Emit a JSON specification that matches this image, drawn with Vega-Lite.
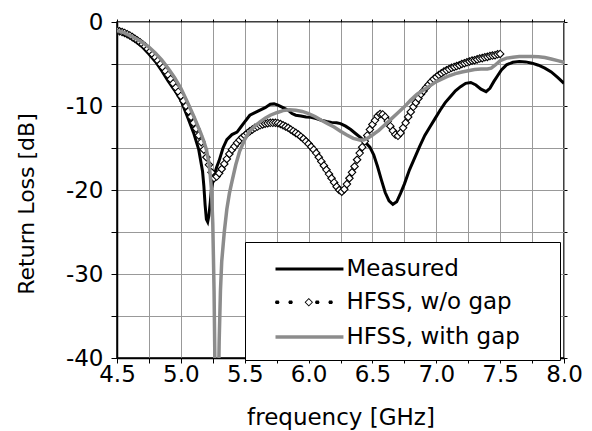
{
"$schema": "https://vega.github.io/schema/vega-lite/v6.json",
"width": 447, "height": 336,
"autosize": "none",
"padding": {"left": 117, "top": 22, "right": 28, "bottom": 73},
"config": {
 "font": "DejaVu Sans",
 "view": {"stroke": "black", "strokeWidth": 1.5},
 "axis": {"labelFont": "DejaVu Sans", "labelFontSize": 23, "labelColor": "black", "titleFont": "DejaVu Sans", "titleFontSize": 23, "titleFontWeight": "normal", "titleColor": "black", "tickColor": "black", "domainColor": "black", "domainWidth": 1.5, "gridColor": "#999999", "gridOpacity": 1, "tickSize": 5, "labelFlush": false}
},
"datasets": {
 "measured": [
  {"freq":4.50,"rl":-1.0},{"freq":4.55,"rl":-1.3},{"freq":4.60,"rl":-1.8},{"freq":4.65,"rl":-2.35},{"freq":4.70,"rl":-3.0},{"freq":4.75,"rl":-3.8},{"freq":4.80,"rl":-4.7},{"freq":4.85,"rl":-5.8},{"freq":4.90,"rl":-7.0},{"freq":4.95,"rl":-8.1},{"freq":5.00,"rl":-9.3},{"freq":5.05,"rl":-11.2},{"freq":5.10,"rl":-13.2},{"freq":5.14,"rl":-15.2},{"freq":5.17,"rl":-17.8},{"freq":5.18,"rl":-19.5},{"freq":5.19,"rl":-21.8},{"freq":5.20,"rl":-23.5},{"freq":5.21,"rl":-23.8},{"freq":5.22,"rl":-23.0},{"freq":5.23,"rl":-21.5},{"freq":5.24,"rl":-19.8},{"freq":5.26,"rl":-18.3},{"freq":5.28,"rl":-17.3},{"freq":5.30,"rl":-16.5},{"freq":5.33,"rl":-15.0},{"freq":5.36,"rl":-14.0},{"freq":5.40,"rl":-13.4},{"freq":5.44,"rl":-13.1},{"freq":5.47,"rl":-12.5},{"freq":5.50,"rl":-11.9},{"freq":5.54,"rl":-11.1},{"freq":5.58,"rl":-10.8},{"freq":5.62,"rl":-10.5},{"freq":5.66,"rl":-10.2},{"freq":5.70,"rl":-9.8},{"freq":5.73,"rl":-9.75},{"freq":5.76,"rl":-9.9},{"freq":5.80,"rl":-10.2},{"freq":5.84,"rl":-10.5},{"freq":5.87,"rl":-10.9},{"freq":5.90,"rl":-11.1},{"freq":5.94,"rl":-11.2},{"freq":5.98,"rl":-11.3},{"freq":6.02,"rl":-11.35},{"freq":6.06,"rl":-11.5},{"freq":6.10,"rl":-11.7},{"freq":6.14,"rl":-11.85},{"freq":6.18,"rl":-11.95},{"freq":6.22,"rl":-12.0},{"freq":6.25,"rl":-12.1},{"freq":6.29,"rl":-12.4},{"freq":6.33,"rl":-12.8},{"freq":6.37,"rl":-13.3},{"freq":6.41,"rl":-13.8},{"freq":6.45,"rl":-14.4},{"freq":6.48,"rl":-14.9},{"freq":6.51,"rl":-15.8},{"freq":6.54,"rl":-17.2},{"freq":6.57,"rl":-18.8},{"freq":6.60,"rl":-20.3},{"freq":6.63,"rl":-21.3},{"freq":6.66,"rl":-21.7},{"freq":6.69,"rl":-21.4},{"freq":6.72,"rl":-20.4},{"freq":6.75,"rl":-19.3},{"freq":6.79,"rl":-17.6},{"freq":6.83,"rl":-16.2},{"freq":6.87,"rl":-14.8},{"freq":6.91,"rl":-13.5},{"freq":6.95,"rl":-12.5},{"freq":6.99,"rl":-11.5},{"freq":7.03,"rl":-10.5},{"freq":7.07,"rl":-9.6},{"freq":7.11,"rl":-8.9},{"freq":7.15,"rl":-8.2},{"freq":7.19,"rl":-7.7},{"freq":7.23,"rl":-7.3},{"freq":7.27,"rl":-7.2},{"freq":7.31,"rl":-7.5},{"freq":7.35,"rl":-8.0},{"freq":7.39,"rl":-8.3},{"freq":7.42,"rl":-7.9},{"freq":7.45,"rl":-7.1},{"freq":7.48,"rl":-6.4},{"freq":7.51,"rl":-5.7},{"freq":7.55,"rl":-5.1},{"freq":7.60,"rl":-4.8},{"freq":7.65,"rl":-4.7},{"freq":7.70,"rl":-4.75},{"freq":7.75,"rl":-4.9},{"freq":7.80,"rl":-5.15},{"freq":7.85,"rl":-5.5},{"freq":7.90,"rl":-5.95},{"freq":7.95,"rl":-6.6},{"freq":8.00,"rl":-7.3}
 ],
 "nogap": [
  {"freq":4.50,"rl":-1.0},{"freq":4.52,"rl":-1.1},{"freq":4.54,"rl":-1.2},{"freq":4.56,"rl":-1.3},{"freq":4.58,"rl":-1.45},{"freq":4.60,"rl":-1.6},{"freq":4.62,"rl":-1.8},{"freq":4.64,"rl":-2.0},{"freq":4.66,"rl":-2.2},{"freq":4.68,"rl":-2.4},{"freq":4.70,"rl":-2.65},{"freq":4.72,"rl":-2.9},{"freq":4.74,"rl":-3.2},{"freq":4.76,"rl":-3.5},{"freq":4.78,"rl":-3.85},{"freq":4.80,"rl":-4.2},{"freq":4.82,"rl":-4.6},{"freq":4.84,"rl":-5.0},{"freq":4.86,"rl":-5.4},{"freq":4.88,"rl":-5.85},{"freq":4.90,"rl":-6.3},{"freq":4.92,"rl":-6.8},{"freq":4.94,"rl":-7.3},{"freq":4.96,"rl":-7.8},{"freq":4.98,"rl":-8.3},{"freq":5.00,"rl":-8.8},{"freq":5.02,"rl":-9.4},{"freq":5.04,"rl":-10.0},{"freq":5.06,"rl":-10.6},{"freq":5.08,"rl":-11.3},{"freq":5.10,"rl":-12.0},{"freq":5.12,"rl":-12.7},{"freq":5.14,"rl":-13.5},{"freq":5.16,"rl":-14.3},{"freq":5.18,"rl":-15.2},{"freq":5.20,"rl":-16.1},{"freq":5.22,"rl":-17.0},{"freq":5.24,"rl":-17.9},{"freq":5.26,"rl":-18.6},{"freq":5.28,"rl":-18.4},{"freq":5.30,"rl":-18.0},{"freq":5.32,"rl":-17.5},{"freq":5.34,"rl":-16.9},{"freq":5.36,"rl":-16.3},{"freq":5.38,"rl":-15.7},{"freq":5.40,"rl":-15.2},{"freq":5.42,"rl":-14.8},{"freq":5.44,"rl":-14.4},{"freq":5.46,"rl":-14.05},{"freq":5.48,"rl":-13.75},{"freq":5.50,"rl":-13.5},{"freq":5.52,"rl":-13.25},{"freq":5.54,"rl":-13.0},{"freq":5.56,"rl":-12.8},{"freq":5.58,"rl":-12.6},{"freq":5.60,"rl":-12.45},{"freq":5.62,"rl":-12.3},{"freq":5.64,"rl":-12.2},{"freq":5.66,"rl":-12.1},{"freq":5.68,"rl":-12.05},{"freq":5.70,"rl":-12.0},{"freq":5.72,"rl":-12.0},{"freq":5.74,"rl":-12.0},{"freq":5.76,"rl":-12.05},{"freq":5.78,"rl":-12.15},{"freq":5.80,"rl":-12.3},{"freq":5.82,"rl":-12.45},{"freq":5.84,"rl":-12.6},{"freq":5.86,"rl":-12.8},{"freq":5.88,"rl":-13.0},{"freq":5.90,"rl":-13.2},{"freq":5.92,"rl":-13.4},{"freq":5.94,"rl":-13.65},{"freq":5.96,"rl":-13.9},{"freq":5.98,"rl":-14.2},{"freq":6.00,"rl":-14.5},{"freq":6.02,"rl":-14.85},{"freq":6.04,"rl":-15.2},{"freq":6.06,"rl":-15.6},{"freq":6.08,"rl":-16.1},{"freq":6.10,"rl":-16.6},{"freq":6.12,"rl":-17.1},{"freq":6.14,"rl":-17.6},{"freq":6.16,"rl":-18.1},{"freq":6.18,"rl":-18.6},{"freq":6.20,"rl":-19.1},{"freq":6.22,"rl":-19.6},{"freq":6.24,"rl":-20.0},{"freq":6.26,"rl":-20.2},{"freq":6.28,"rl":-19.9},{"freq":6.30,"rl":-19.3},{"freq":6.32,"rl":-18.6},{"freq":6.34,"rl":-17.9},{"freq":6.36,"rl":-17.2},{"freq":6.38,"rl":-16.4},{"freq":6.40,"rl":-15.6},{"freq":6.42,"rl":-14.9},{"freq":6.44,"rl":-14.2},{"freq":6.46,"rl":-13.5},{"freq":6.48,"rl":-12.8},{"freq":6.50,"rl":-12.2},{"freq":6.52,"rl":-11.7},{"freq":6.54,"rl":-11.2},{"freq":6.56,"rl":-10.95},{"freq":6.58,"rl":-11.0},{"freq":6.60,"rl":-11.3},{"freq":6.62,"rl":-11.8},{"freq":6.64,"rl":-12.4},{"freq":6.66,"rl":-12.95},{"freq":6.68,"rl":-13.4},{"freq":6.70,"rl":-13.55},{"freq":6.72,"rl":-13.2},{"freq":6.74,"rl":-12.6},{"freq":6.76,"rl":-12.0},{"freq":6.78,"rl":-11.3},{"freq":6.80,"rl":-10.7},{"freq":6.82,"rl":-10.1},{"freq":6.84,"rl":-9.6},{"freq":6.86,"rl":-9.1},{"freq":6.88,"rl":-8.6},{"freq":6.90,"rl":-8.2},{"freq":6.92,"rl":-7.8},{"freq":6.94,"rl":-7.45},{"freq":6.96,"rl":-7.1},{"freq":6.98,"rl":-6.8},{"freq":7.00,"rl":-6.55},{"freq":7.02,"rl":-6.3},{"freq":7.04,"rl":-6.1},{"freq":7.06,"rl":-5.9},{"freq":7.08,"rl":-5.75},{"freq":7.10,"rl":-5.6},{"freq":7.12,"rl":-5.45},{"freq":7.14,"rl":-5.35},{"freq":7.16,"rl":-5.25},{"freq":7.18,"rl":-5.15},{"freq":7.20,"rl":-5.0},{"freq":7.22,"rl":-4.9},{"freq":7.24,"rl":-4.8},{"freq":7.26,"rl":-4.7},{"freq":7.28,"rl":-4.6},{"freq":7.30,"rl":-4.55},{"freq":7.32,"rl":-4.45},{"freq":7.34,"rl":-4.35},{"freq":7.36,"rl":-4.3},{"freq":7.38,"rl":-4.2},{"freq":7.40,"rl":-4.15},{"freq":7.42,"rl":-4.05},{"freq":7.44,"rl":-4.0},{"freq":7.46,"rl":-3.95},{"freq":7.48,"rl":-3.85},{"freq":7.50,"rl":-3.8}
 ],
 "withgap": [
  {"freq":4.50,"rl":-1.0},{"freq":4.55,"rl":-1.25},{"freq":4.60,"rl":-1.6},{"freq":4.65,"rl":-2.0},{"freq":4.70,"rl":-2.45},{"freq":4.75,"rl":-3.0},{"freq":4.80,"rl":-3.7},{"freq":4.85,"rl":-4.5},{"freq":4.90,"rl":-5.5},{"freq":4.95,"rl":-6.6},{"freq":5.00,"rl":-7.9},{"freq":5.05,"rl":-9.5},{"freq":5.10,"rl":-11.2},{"freq":5.15,"rl":-13.0},{"freq":5.18,"rl":-14.2},{"freq":5.20,"rl":-15.2},{"freq":5.22,"rl":-16.8},{"freq":5.23,"rl":-18.2},{"freq":5.24,"rl":-20.0},{"freq":5.25,"rl":-24.0},{"freq":5.26,"rl":-32.0},{"freq":5.27,"rl":-45.0},{"freq":5.28,"rl":-55.0},{"freq":5.29,"rl":-48.0},{"freq":5.30,"rl":-38.0},{"freq":5.31,"rl":-32.0},{"freq":5.32,"rl":-28.5},{"freq":5.34,"rl":-25.0},{"freq":5.36,"rl":-22.3},{"freq":5.38,"rl":-20.4},{"freq":5.40,"rl":-19.0},{"freq":5.43,"rl":-17.0},{"freq":5.46,"rl":-15.4},{"freq":5.50,"rl":-14.0},{"freq":5.54,"rl":-13.0},{"freq":5.58,"rl":-12.4},{"freq":5.62,"rl":-11.9},{"freq":5.66,"rl":-11.45},{"freq":5.70,"rl":-11.1},{"freq":5.75,"rl":-10.8},{"freq":5.80,"rl":-10.55},{"freq":5.85,"rl":-10.45},{"freq":5.90,"rl":-10.5},{"freq":5.95,"rl":-10.65},{"freq":6.00,"rl":-10.9},{"freq":6.05,"rl":-11.25},{"freq":6.10,"rl":-11.7},{"freq":6.15,"rl":-12.1},{"freq":6.20,"rl":-12.5},{"freq":6.25,"rl":-13.0},{"freq":6.30,"rl":-13.45},{"freq":6.35,"rl":-13.85},{"freq":6.40,"rl":-14.05},{"freq":6.43,"rl":-14.05},{"freq":6.46,"rl":-13.85},{"freq":6.50,"rl":-13.45},{"freq":6.55,"rl":-12.9},{"freq":6.60,"rl":-12.2},{"freq":6.65,"rl":-11.5},{"freq":6.70,"rl":-10.8},{"freq":6.75,"rl":-10.1},{"freq":6.80,"rl":-9.3},{"freq":6.85,"rl":-8.6},{"freq":6.90,"rl":-8.1},{"freq":6.95,"rl":-7.6},{"freq":7.00,"rl":-7.1},{"freq":7.05,"rl":-6.75},{"freq":7.10,"rl":-6.4},{"freq":7.15,"rl":-6.15},{"freq":7.20,"rl":-5.95},{"freq":7.25,"rl":-5.8},{"freq":7.30,"rl":-5.65},{"freq":7.35,"rl":-5.6},{"freq":7.40,"rl":-5.6},{"freq":7.43,"rl":-5.5},{"freq":7.46,"rl":-5.15},{"freq":7.50,"rl":-4.6},{"freq":7.55,"rl":-4.3},{"freq":7.60,"rl":-4.2},{"freq":7.65,"rl":-4.12},{"freq":7.70,"rl":-4.1},{"freq":7.75,"rl":-4.1},{"freq":7.80,"rl":-4.15},{"freq":7.85,"rl":-4.22},{"freq":7.90,"rl":-4.4},{"freq":7.95,"rl":-4.6},{"freq":8.00,"rl":-4.8}
 ],
 "legendrows": [
  {"series": "Measured"}, {"series": "HFSS, w/o gap"}, {"series": "HFSS, with gap"}
 ]
},
"layer": [
 {
  "data": {"name": "measured"},
  "mark": {"type": "line", "strokeWidth": 3, "clip": true, "color": "#000000"},
  "encoding": {
   "x": {"field": "freq", "type": "quantitative", "scale": {"domain": [4.5, 8], "nice": false, "zero": false},
    "axis": {"orient": "bottom", "values": [4.5,4.75,5,5.25,5.5,5.75,6,6.25,6.5,6.75,7,7.25,7.5,7.75,8], "labelExpr": "(datum.value*4)%2 === 0 ? format(datum.value, '.1f') : ''", "title": "frequency [GHz]", "grid": true, "labelBaseline": "alphabetic", "labelPadding": 18, "titleBaseline": "alphabetic", "titleY": 66}},
   "y": {"field": "rl", "type": "quantitative", "scale": {"domain": [-40, 0], "nice": false, "zero": false},
    "axis": {"orient": "left", "values": [-40,-35,-30,-25,-20,-15,-10,-5,0], "labelExpr": "datum.value % 10 === 0 ? '' + datum.value : ''", "title": "Return Loss [dB]", "grid": true, "tickSize": 6, "labelPadding": 8, "titleX": -84, "titleY": 181.5, "titleBaseline": "alphabetic", "titleFontSize": 22}}
  }
 },
 {
  "data": {"name": "nogap"},
  "mark": {"type": "point", "shape": "diamond", "size": 56, "filled": true, "fill": "white", "stroke": "black", "strokeWidth": 1.1, "opacity": 1, "clip": true},
  "encoding": {
   "x": {"field": "freq", "type": "quantitative", "axis": {"orient": "top", "values": [4.5,4.75,5,5.25,5.5,5.75,6,6.25,6.5,6.75,7,7.25,7.5,7.75,8], "labels": false, "title": null, "grid": false, "domain": false, "tickSize": 3}},
   "y": {"field": "rl", "type": "quantitative", "axis": {"orient": "right", "values": [-40,-35,-30,-25,-20,-15,-10,-5,0], "labels": false, "title": null, "grid": false, "domain": false, "tickSize": 3}}
  }
 },
 {
  "data": {"name": "withgap"},
  "mark": {"type": "line", "strokeWidth": 3.5, "clip": true, "color": "#8c8c8c"},
  "encoding": {
   "x": {"field": "freq", "type": "quantitative", "axis": null},
   "y": {"field": "rl", "type": "quantitative", "axis": null}
  }
 },
 {
  "data": {"name": "legendrows"},
  "transform": [{"filter": "false"}],
  "mark": {"type": "point", "opacity": 1},
  "encoding": {
   "stroke": {"field": "series", "type": "nominal",
    "scale": {"domain": ["Measured", "HFSS, w/o gap", "HFSS, with gap"], "range": ["#000000", "#000000", "#8c8c8c"]},
    "legend": {"orient": "none", "legendX": 128, "legendY": 220, "title": ".", "titleOrient": "right", "titleColor": "white", "titleFontSize": 4, "titlePadding": 28, "padding": 10.5,
     "fillColor": "white", "strokeColor": "black", "cornerRadius": 0,
     "labelFont": "DejaVu Sans", "labelFontSize": 23, "labelColor": "black", "labelOffset": 57, "labelLimit": 400, "labelBaseline": "middle",
     "symbolSize": 900, "rowPadding": 5.8}},
   "fill": {"field": "series", "type": "nominal",
    "scale": {"domain": ["Measured", "HFSS, w/o gap", "HFSS, with gap"], "range": ["transparent", "#000000", "transparent"]}},
   "shape": {"field": "series", "type": "nominal",
    "scale": {"domain": ["Measured", "HFSS, w/o gap", "HFSS, with gap"], "range": ["M0.2,0L4.73,0", "M0.16,0L0.22,-0.12L0.41,-0.12L0.47,0L0.41,0.12L0.22,0.12ZM1.05,0L1.11,-0.12L1.3,-0.12L1.36,0L1.3,0.12L1.11,0.12ZM2.83,0L2.89,-0.12L3.08,-0.12L3.14,0L3.08,0.12L2.89,0.12ZM3.72,0L3.78,-0.12L3.97,-0.12L4.03,0L3.97,0.12L3.78,0.12ZM2.42,-0.28L2.7,0L2.42,0.28L2.14,0ZM2.42,-0.2L2.22,0L2.42,0.2L2.62,0Z", "M0.2,0L4.73,0"]}},
   "strokeWidth": {"field": "series", "type": "ordinal",
    "scale": {"type": "ordinal", "domain": ["Measured", "HFSS, w/o gap", "HFSS, with gap"], "range": [3, 0, 3.5]}}
  }
 }
],
"resolve": {"axis": {"x": "independent", "y": "independent"}}
}
